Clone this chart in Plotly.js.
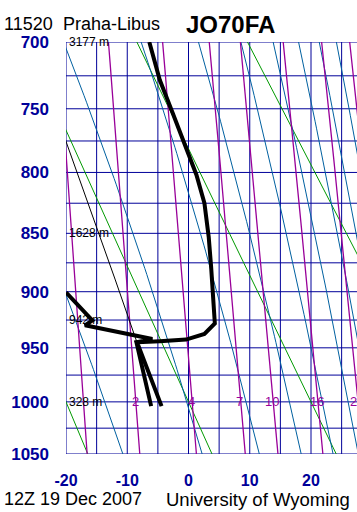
<!DOCTYPE html>
<html><head><meta charset="utf-8">
<script src="https://cdn.plot.ly/plotly-3.0.1.min.js"></script>
<style>html,body{margin:0;padding:0;overflow:hidden;background:#fff}#chart{width:380px;height:512px}</style>
</head><body><div id="chart"></div>
<script>
// ---- Sounding data (pressure hPa, temperature °C)
const tempP = [700, 728, 753, 777, 802, 825, 853, 879, 901, 928, 937.5, 942.5, 944, 945, 1004];
const tempT = [-6.4, -4.7, -2.6, -0.65, 1.3, 2.6, 3.3, 3.7, 3.95, 4.3, 2.6, -0.4, -4.7, -8.4, -4.4];
const dewP  = [900.6, 925.3, 929.7, 942, 945, 1004];
const dewT  = [-20.0, -15.7, -16.9, -5.9, -8.5, -6.1];
const parcelP = [1004, 950, 889, 823, 774];
const parcelT = [-4.4, -8.1, -12.0, -16.5, -20.1];

// ---- Diagram furniture
const isotherms = [-20, -15, -10, -5, 0, 5, 10, 15, 20, 25, 30];
const isobars = [700, 725, 750, 775, 800, 825, 850, 875, 900, 925, 950, 975, 1000, 1025, 1050];
const dryTheta = [-20, 0, 20, 40, 60];                 // potential temperature, °C
const moistThetaE = [263.15, 283.15, 303.15, 323.15, 343.15, 363.15, 383.15, 403.15, 423.15]; // K
const mixRatios = [1, 2, 4, 7, 10, 16, 24, 32];       // g/kg
const mixLabels = [2, 4, 7, 10, 16, 24];
const pressureTicks = [700, 750, 800, 850, 900, 950, 1000, 1050];
const tempTicks = [-20, -10, 0, 10, 20];
const heightLevels = [700, 850, 925, 1000];
const heightTexts = ['3177 m', '1628 m', '942 m', '328 m'];

const K = 0.286;
const Y = p => Math.pow(p, K);
const PTOP = 700, PBOT = 1050;
const pGrid = [];
for (let p = PBOT; p >= 690; p -= 5) pGrid.push(p);

function esat(Tc) { return 6.112 * Math.exp(17.67 * Tc / (Tc + 243.5)); }
function thetaE(Tc, p) {
  const e = esat(Tc), r = 1000 * 0.622 * e / (p - e), T = Tc + 273.15;
  const th = T * Math.pow(1000 / p, 0.2854 * (1 - 0.00028 * r));
  return th * Math.exp((3.376 / T - 0.00254) * r * (1 + 0.00081 * r));
}
function moistT(te, p) {
  let lo = -90, hi = 50;
  for (let i = 0; i < 60; i++) { const m = (lo + hi) / 2; if (thetaE(m, p) > te) hi = m; else lo = m; }
  return (lo + hi) / 2;
}
function dewFromMix(w, p) {
  const e = w * p / (622 + w), l = Math.log(e / 6.112);
  return 243.5 * l / (17.67 - l);
}

const NAVY = '#000099', GREEN = '#009900', BLUE = '#0060a0', PURPLE = '#990099';
const traces = [];
function multi(list, fx, color, width) {
  const x = [], y = [];
  list.forEach(v => { const pts = fx(v); pts.forEach(q => { x.push(q[0]); y.push(q[1]); }); x.push(null); y.push(null); });
  traces.push({x, y, type: 'scatter', mode: 'lines', line: {color, width}, hoverinfo: 'skip', showlegend: false});
}
multi(isotherms, t => [[t, Y(PBOT)], [t, Y(PTOP)]], NAVY, 1);
multi(isobars, p => [[-20, Y(p)], [40, Y(p)]], NAVY, 1);
multi(dryTheta, th => pGrid.map(p => [(th + 273.15) * Math.pow(p / 1000, K) - 273.15, Y(p)]), GREEN, 1);
multi(moistThetaE, te => pGrid.map(p => [moistT(te, p), Y(p)]), BLUE, 1);
multi(mixRatios, w => pGrid.map(p => [dewFromMix(w, p), Y(p)]), PURPLE, 1.3);

traces.push({x: parcelT, y: parcelP.map(Y), type: 'scatter', mode: 'lines', line: {color: '#000', width: 1}, hoverinfo: 'skip', showlegend: false});
traces.push({x: dewT, y: dewP.map(Y), type: 'scatter', mode: 'lines', line: {color: '#000', width: 4}, hoverinfo: 'skip', showlegend: false});
traces.push({x: tempT, y: tempP.map(Y), type: 'scatter', mode: 'lines', line: {color: '#000', width: 4}, hoverinfo: 'skip', showlegend: false});

const W = 380, H = 512, L = 66, T = 42, B = 58;
const plotW = W - L, plotH = H - T - B;
const pxPerDeg = 6.125;
const px2paperX = px => (px - L) / plotW;
const px2paperY = py => (H - B - py) / plotH;

const FONT = 'Liberation Sans, Arial, sans-serif';
const annotations = [
  {text: '11520', x: px2paperX(2), y: px2paperY(24.5), xref: 'paper', yref: 'paper', xanchor: 'left', yanchor: 'middle', showarrow: false, font: {family: FONT, size: 18, color: '#000'}},
  {text: 'Praha-Libus', x: px2paperX(61), y: px2paperY(24.5), xref: 'paper', yref: 'paper', xanchor: 'left', yanchor: 'middle', showarrow: false, font: {family: FONT, size: 18, color: '#000'}},
  {text: 'JO70FA', x: px2paperX(184), y: px2paperY(24.5), xref: 'paper', yref: 'paper', xanchor: 'left', yanchor: 'middle', showarrow: false, font: {family: FONT, size: 24, color: '#000', weight: 'bold'}},
  {text: '12Z 19 Dec 2007', x: px2paperX(2), y: px2paperY(499), xref: 'paper', yref: 'paper', xanchor: 'left', yanchor: 'middle', showarrow: false, font: {family: FONT, size: 18, color: '#000'}},
  {text: 'University of Wyoming', x: px2paperX(164), y: px2paperY(499), xref: 'paper', yref: 'paper', xanchor: 'left', yanchor: 'middle', showarrow: false, font: {family: FONT, size: 18.5, color: '#000'}}
];
heightLevels.forEach((p, i) => annotations.push({text: heightTexts[i], x: px2paperX(67), y: Y(p), xref: 'paper', yref: 'y', xanchor: 'left', yanchor: 'middle', showarrow: false, font: {family: FONT, size: 12, color: '#000'}}));
mixLabels.forEach(w => annotations.push({text: String(w), x: dewFromMix(w, 1000) - 0.15, y: Y(1000), xref: 'x', yref: 'y', xanchor: 'center', yanchor: 'middle', showarrow: false, font: {family: FONT, size: 13, color: PURPLE}}));

const layout = {
  width: W, height: H,
  margin: {l: L, r: 0, t: T, b: B, pad: 0},
  paper_bgcolor: '#fff', plot_bgcolor: '#fff',
  showlegend: false,
  xaxis: {range: [-20, -20 + plotW / pxPerDeg], showgrid: false, zeroline: false, showline: false,
    tickmode: 'array', tickvals: tempTicks, ticktext: tempTicks.map(String), ticks: '',
    ticklabelstandoff: 15, tickfont: {family: FONT, size: 16, color: NAVY, weight: 'bold'}, fixedrange: true},
  yaxis: {range: [Y(PBOT), Y(PTOP)], showgrid: false, zeroline: false, showline: false,
    tickmode: 'array', tickvals: pressureTicks.map(Y), ticktext: pressureTicks.map(String), ticks: '',
    ticklabelstandoff: 16, tickfont: {family: FONT, size: 17, color: NAVY, weight: 'bold'}, fixedrange: true},
  annotations
};
Plotly.newPlot('chart', traces, layout, {staticPlot: true, displayModeBar: false});
</script></body></html>
